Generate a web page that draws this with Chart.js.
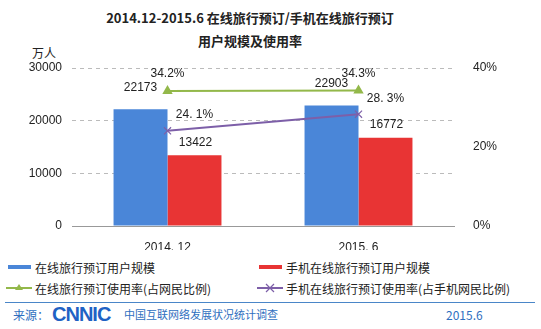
<!DOCTYPE html>
<html>
<head>
<meta charset="utf-8">
<script src="https://cdn.jsdelivr.net/npm/chart.js@4/dist/chart.umd.min.js"></script>
<style>
  body { margin: 0; width: 541px; height: 329px; background: #fff; position: relative; overflow: hidden;
         font-family: "Noto Sans CJK SC", "Liberation Sans", sans-serif; color: #222; }
  #wrap { position: absolute; left: 0; top: 0; width: 541px; height: 250px; }
  .title { position: absolute; left: 0; width: 500px; text-align: center; font-weight: bold; font-size: 13px; }
  .unit { position: absolute; left: 32px; top: 44px; font-size: 12px; }
  .leg { position: absolute; font-size: 12px; display: flex; align-items: center; height: 16px; }
  .leg svg { margin-right: 3px; }
  .rule { position: absolute; left: 5px; right: 6px; top: 302px; height: 0; border-top: 1px solid #4a86c8; }
  .foot { position: absolute; top: 306px; font-size: 11px; color: #2f6fc0; }
  .logo { position: absolute; left: 52px; top: 303px; font: bold 20px "Liberation Sans", sans-serif; color: #1f62c4; letter-spacing: -1px; }
</style>
</head>
<body>
<div class="title" style="top:8px">2014.12-2015.6 在线旅行预订/手机在线旅行预订</div>
<div class="title" style="top:31px">用户规模及使用率</div>
<div class="unit">万人</div>
<div id="wrap"><canvas id="c"></canvas></div>

<div class="leg" style="left:8px;top:259px"><svg width="24" height="8"><rect x="0" y="2" width="23" height="4" fill="#4a86d8"/></svg>在线旅行预订用户规模</div>
<div class="leg" style="left:259px;top:259px"><svg width="24" height="8"><rect x="0" y="2" width="23" height="4" fill="#e83434"/></svg>手机在线旅行预订用户规模</div>
<div class="leg" style="left:6px;top:280px"><svg width="26" height="10"><line x1="0" y1="5" x2="26" y2="5" stroke="#93b84a" stroke-width="2"/><polygon points="13,1 17,7 9,7" fill="#93b84a"/></svg>在线旅行预订使用率(占网民比例)</div>
<div class="leg" style="left:257px;top:280px"><svg width="26" height="10"><line x1="0" y1="5" x2="26" y2="5" stroke="#7d5fa8" stroke-width="2"/><path d="M9,1 L17,9 M17,1 L9,9" stroke="#7d5fa8" stroke-width="1.2"/></svg>手机在线旅行预订使用率(占手机网民比例)</div>

<div class="rule"></div>
<div class="foot" style="left:13px;font-size:12px">来源：</div>
<div class="logo">CNNIC</div>
<div class="foot" style="left:124px">中国互联网络发展状况统计调查</div>
<div class="foot" style="left:446px;font-size:12px">2015.6</div>

<script>
const periods = ['2014. 12', '2015. 6']
const onlineUsers = [22173, 22903]
const mobileUsers = [13422, 16772]
const onlineRate = [34.2, 34.3]
const mobileRate = [24.1, 28.3]
const leftTicks = [0, 10000, 20000, 30000]
const rightTicks = [0, 20, 40]

const tickFont = { family: 'Liberation Sans, Arial, sans-serif', size: 12 }

// value labels next to bars and points
const valueLabels = {
  id: 'valueLabels',
  afterDatasetsDraw(chart) {
    const ctx = chart.ctx
    ctx.save()
    ctx.font = '12px "Liberation Sans", Arial, sans-serif'
    ctx.fillStyle = '#222'
    ctx.textAlign = 'center'
    ctx.textBaseline = 'middle'
    chart.data.datasets.forEach((ds, i) => {
      const meta = chart.getDatasetMeta(i)
      meta.data.forEach((el, j) => {
        const v = ds.data[j]
        ctx.fillText(ds.fmt(v), el.x + ds.lx, el.y + ds.ly)
      })
    })
    ctx.restore()
  }
}

new Chart(document.getElementById('c'), {
  data: {
    labels: periods,
    datasets: [
      { type: 'line', label: '在线旅行预订使用率(占网民比例)', data: onlineRate, yAxisID: 'y2',
        borderColor: '#93b84a', backgroundColor: '#93b84a', borderWidth: 2,
        pointStyle: 'triangle', pointRadius: 4, fmt: v => v.toFixed(1) + '%', lx: 0, ly: -17 },
      { type: 'line', label: '手机在线旅行预订使用率(占手机网民比例)', data: mobileRate, yAxisID: 'y2',
        borderColor: '#7d5fa8', backgroundColor: '#7d5fa8', borderWidth: 2,
        pointStyle: 'crossRot', pointRadius: 5, pointBorderWidth: 1.2,
        fmt: v => v.toFixed(1).replace('.', '. ') + '%', lx: 27, ly: -16 },
      { type: 'bar', label: '在线旅行预订用户规模', data: onlineUsers, yAxisID: 'y',
        backgroundColor: '#4a86d8', fmt: v => String(v), lx: 0, ly: -22 },
      { type: 'bar', label: '手机在线旅行预订用户规模', data: mobileUsers, yAxisID: 'y',
        backgroundColor: '#e83434', fmt: v => String(v), lx: 1, ly: -13 }
    ]
  },
  options: {
    responsive: true,
    maintainAspectRatio: false,
    animation: false,
    layout: { padding: { top: 68, left: 0, right: 0, bottom: 0 } },
    datasets: { bar: { categoryPercentage: 0.565, barPercentage: 1, borderWidth: 0 } },
    plugins: { legend: { display: false }, tooltip: { enabled: false } },
    scales: {
      x: {
        grid: { display: false },
        border: { color: '#999' },
        ticks: { font: tickFont, color: '#222', padding: 6 },
        afterFit: s => { s.height = 24 }
      },
      y: {
        position: 'left', min: 0, max: 30000,
        afterBuildTicks: s => { s.ticks = leftTicks.map(v => ({ value: v })) },
        grid: { color: c => c.tick.value === 0 ? 'rgba(0,0,0,0)' : '#bbbbbb', drawTicks: false },
        border: { display: false, dash: [4, 4] },
        ticks: { font: tickFont, color: '#222', padding: 10, callback: v => String(v) },
        afterFit: s => { s.width = 72 }
      },
      y2: {
        position: 'right', min: 0, max: 40,
        afterBuildTicks: s => { s.ticks = rightTicks.map(v => ({ value: v })) },
        grid: { display: false },
        border: { display: false },
        ticks: { font: tickFont, color: '#222', padding: 11, callback: v => v + '%' },
        afterFit: s => { s.width = 87 }
      }
    }
  },
  plugins: [valueLabels]
})
</script>
</body>
</html>
